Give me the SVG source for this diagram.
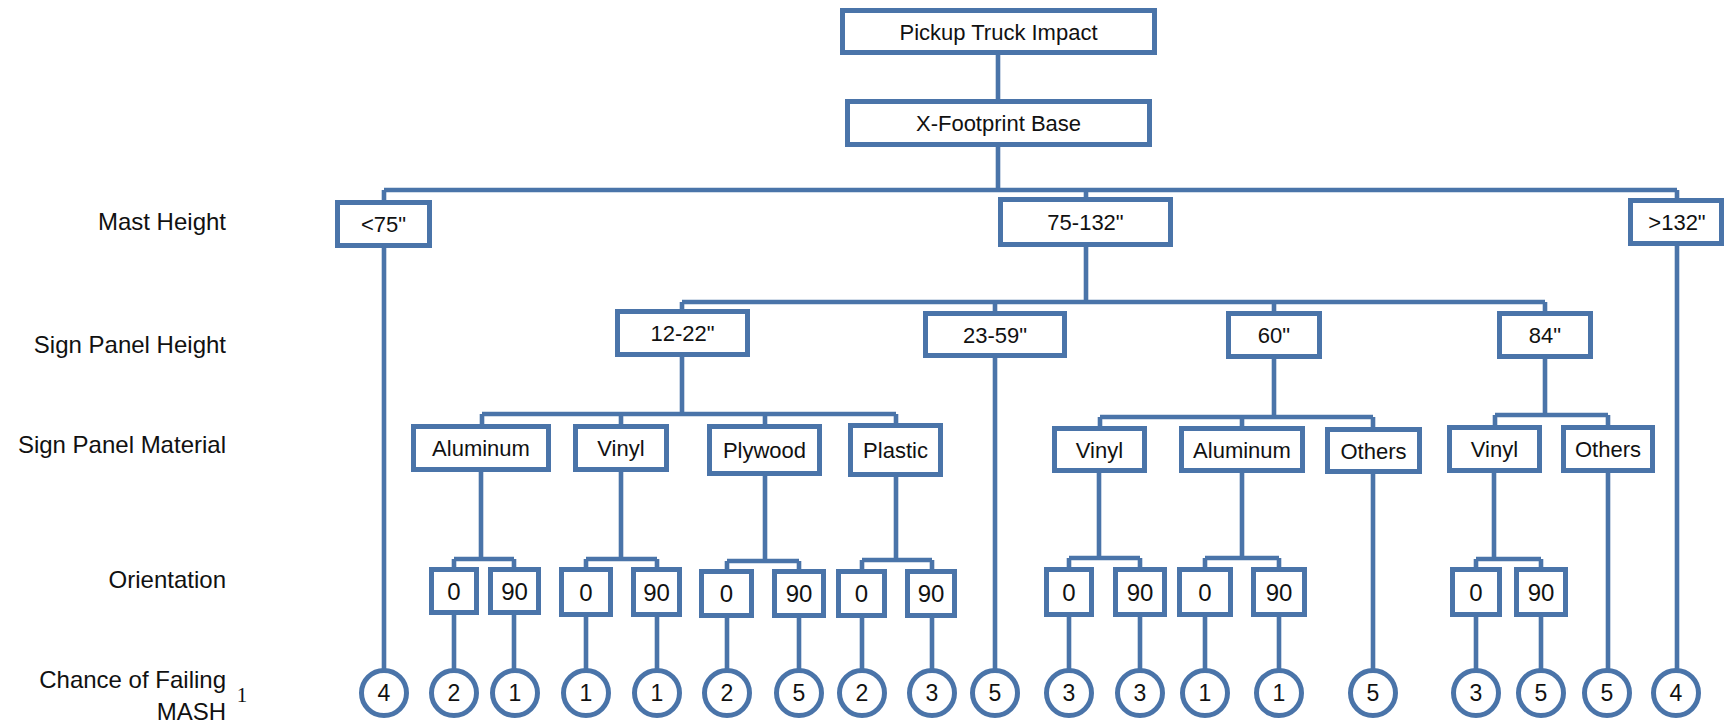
<svg xmlns="http://www.w3.org/2000/svg" width="1724" height="727" viewBox="0 0 1724 727">
<style>
.b{fill:#fff;stroke:#4a74a9;stroke-width:5}
.c{fill:none;stroke:#4a74a9;stroke-width:4.6;stroke-linejoin:miter;stroke-linecap:butt}
.t{font-family:"Liberation Sans",Arial,sans-serif;font-size:22px;fill:#111;text-anchor:middle}
.d{font-family:"Liberation Sans",Arial,sans-serif;font-size:24px;fill:#111;text-anchor:middle}
.n{font-family:"Liberation Sans",Arial,sans-serif;font-size:23px;fill:#111;text-anchor:middle}
.l{font-family:"Liberation Sans",Arial,sans-serif;font-size:24px;fill:#111;text-anchor:end}
</style>
<rect width="1724" height="727" fill="#fff"/>
<g id="row-labels">
<text class="l" x="226" y="230">Mast Height</text>
<text class="l" x="226" y="353">Sign Panel Height</text>
<text class="l" x="226" y="453">Sign Panel Material</text>
<text class="l" x="226" y="588">Orientation</text>
<text class="l" x="226" y="688">Chance of Failing</text>
<text class="l" x="226" y="720">MASH</text>
<text x="242" y="702" font-family="Liberation Serif,serif" font-size="21" fill="#111" text-anchor="middle">1</text>
</g>
<g id="connectors">
<path class="c" d="M998 55V99M998 147V190M384 190H1677M384 190V669M1086 190V199M1677 190V669"/>
<path class="c" d="M1086 247V302M682 302H1545M682 302V311M995 302V669M1274 302V313M1545 302V313"/>
<path class="c" d="M682 357V414M482 414H896M482 414V426M621 414V426M765 414V426M896 414V426"/>
<path class="c" d="M1274 359V417M1100 417H1373M1100 417V428M1242 417V428M1373 417V669"/>
<path class="c" d="M1545 359V415M1495 415H1608M1495 415V427M1608 415V669"/>
<path class="c" d="M481 472V559M454 559H514M454 559V569M514 559V569"/>
<path class="c" d="M621 472V559M586 559H657M586 559V569M657 559V569"/>
<path class="c" d="M765 476V561M727 561H799M727 561V571M799 561V571"/>
<path class="c" d="M896 477V560M862 560H932M862 560V571M932 560V571"/>
<path class="c" d="M1099 473V558M1069 558H1140M1069 558V569M1140 558V569"/>
<path class="c" d="M1242 473V558M1205 558H1279M1205 558V569M1279 558V569"/>
<path class="c" d="M1494 473V559M1476 559H1541M1476 559V569M1541 559V569"/>
<path class="c" d="M454 615V669M514 615V669M586 617V669M657 617V669M727 618V669M799 618V669M862 618V669M932 618V669M1069 617V669M1140 617V669M1205 617V669M1279 617V669M1476 617V669M1541 617V669"/>
</g>
<g id="n-pickup"><rect class="b" x="842.5" y="10.5" width="312" height="42"/><text class="t" x="998.5" y="40">Pickup Truck Impact</text></g>
<g id="n-base"><rect class="b" x="847.5" y="101.5" width="302" height="43"/><text class="t" x="998.5" y="131">X-Footprint Base</text></g>
<g id="n-m75"><rect class="b" x="337.5" y="202.5" width="92" height="43"/><text class="t" x="383.5" y="232">&lt;75"</text></g>
<g id="n-m75-132"><rect class="b" x="1000.5" y="199.5" width="170" height="45"/><text class="t" x="1085.5" y="230">75-132"</text></g>
<g id="n-m132"><rect class="b" x="1630.5" y="200.5" width="91" height="43"/><text class="t" x="1677" y="230">&gt;132"</text></g>
<g id="n-h12"><rect class="b" x="617.5" y="311.5" width="130" height="43"/><text class="t" x="682.5" y="341">12-22"</text></g>
<g id="n-h23"><rect class="b" x="925.5" y="313.5" width="139" height="42"/><text class="t" x="995" y="342.5">23-59"</text></g>
<g id="n-h60"><rect class="b" x="1228.5" y="313.5" width="91" height="43"/><text class="t" x="1274" y="343">60"</text></g>
<g id="n-h84"><rect class="b" x="1499.5" y="313.5" width="91" height="43"/><text class="t" x="1545" y="343">84"</text></g>
<g id="n-al1"><rect class="b" x="413.5" y="426.5" width="135" height="43"/><text class="t" x="481" y="456">Aluminum</text></g>
<g id="n-vi1"><rect class="b" x="575.5" y="426.5" width="91" height="43"/><text class="t" x="621" y="456">Vinyl</text></g>
<g id="n-ply"><rect class="b" x="709.5" y="426.5" width="110" height="47"/><text class="t" x="764.5" y="458">Plywood</text></g>
<g id="n-pla"><rect class="b" x="850.5" y="425.5" width="90" height="49"/><text class="t" x="895.5" y="458">Plastic</text></g>
<g id="n-vi2"><rect class="b" x="1054.5" y="428.5" width="90" height="42"/><text class="t" x="1099.5" y="457.5">Vinyl</text></g>
<g id="n-al2"><rect class="b" x="1181.5" y="428.5" width="121" height="42"/><text class="t" x="1242" y="457.5">Aluminum</text></g>
<g id="n-ot2"><rect class="b" x="1327.5" y="429.5" width="92" height="42"/><text class="t" x="1373.5" y="458.5">Others</text></g>
<g id="n-vi3"><rect class="b" x="1449.5" y="427.5" width="90" height="43"/><text class="t" x="1494.5" y="457">Vinyl</text></g>
<g id="n-ot3"><rect class="b" x="1563.5" y="427.5" width="89" height="43"/><text class="t" x="1608" y="457">Others</text></g>
<g id="n-o1"><rect class="b" x="431.5" y="569.5" width="45" height="43"/><text class="d" x="454" y="600">0</text></g>
<g id="n-o2"><rect class="b" x="490.5" y="569.5" width="48" height="43"/><text class="d" x="514.5" y="600">90</text></g>
<g id="n-o3"><rect class="b" x="561.5" y="569.5" width="49" height="45"/><text class="d" x="586" y="601">0</text></g>
<g id="n-o4"><rect class="b" x="633.5" y="569.5" width="46" height="45"/><text class="d" x="656.5" y="601">90</text></g>
<g id="n-o5"><rect class="b" x="701.5" y="571.5" width="50" height="44"/><text class="d" x="726.5" y="602">0</text></g>
<g id="n-o6"><rect class="b" x="774.5" y="571.5" width="49" height="44"/><text class="d" x="799" y="602">90</text></g>
<g id="n-o7"><rect class="b" x="838.5" y="571.5" width="46" height="44"/><text class="d" x="861.5" y="602">0</text></g>
<g id="n-o8"><rect class="b" x="907.5" y="571.5" width="47" height="44"/><text class="d" x="931" y="602">90</text></g>
<g id="n-o9"><rect class="b" x="1046.5" y="569.5" width="45" height="45"/><text class="d" x="1069" y="601">0</text></g>
<g id="n-o10"><rect class="b" x="1115.5" y="569.5" width="49" height="45"/><text class="d" x="1140" y="601">90</text></g>
<g id="n-o11"><rect class="b" x="1179.5" y="569.5" width="51" height="45"/><text class="d" x="1205" y="601">0</text></g>
<g id="n-o12"><rect class="b" x="1253.5" y="569.5" width="51" height="45"/><text class="d" x="1279" y="601">90</text></g>
<g id="n-o13"><rect class="b" x="1452.5" y="569.5" width="47" height="45"/><text class="d" x="1476" y="601">0</text></g>
<g id="n-o14"><rect class="b" x="1516.5" y="569.5" width="49" height="45"/><text class="d" x="1541" y="601">90</text></g>
<g id="results">
<g id="r1"><circle class="b" cx="384" cy="693" r="22.5"/><text class="n" x="384" y="701">4</text></g>
<g id="r2"><circle class="b" cx="454" cy="693" r="22.5"/><text class="n" x="454" y="701">2</text></g>
<g id="r3"><circle class="b" cx="515" cy="693" r="22.5"/><text class="n" x="515" y="701">1</text></g>
<g id="r4"><circle class="b" cx="586" cy="693" r="22.5"/><text class="n" x="586" y="701">1</text></g>
<g id="r5"><circle class="b" cx="657" cy="693" r="22.5"/><text class="n" x="657" y="701">1</text></g>
<g id="r6"><circle class="b" cx="727" cy="693" r="22.5"/><text class="n" x="727" y="701">2</text></g>
<g id="r7"><circle class="b" cx="799" cy="693" r="22.5"/><text class="n" x="799" y="701">5</text></g>
<g id="r8"><circle class="b" cx="862" cy="693" r="22.5"/><text class="n" x="862" y="701">2</text></g>
<g id="r9"><circle class="b" cx="932" cy="693" r="22.5"/><text class="n" x="932" y="701">3</text></g>
<g id="r10"><circle class="b" cx="995" cy="693" r="22.5"/><text class="n" x="995" y="701">5</text></g>
<g id="r11"><circle class="b" cx="1069" cy="693" r="22.5"/><text class="n" x="1069" y="701">3</text></g>
<g id="r12"><circle class="b" cx="1140" cy="693" r="22.5"/><text class="n" x="1140" y="701">3</text></g>
<g id="r13"><circle class="b" cx="1205" cy="693" r="22.5"/><text class="n" x="1205" y="701">1</text></g>
<g id="r14"><circle class="b" cx="1279" cy="693" r="22.5"/><text class="n" x="1279" y="701">1</text></g>
<g id="r15"><circle class="b" cx="1373" cy="693" r="22.5"/><text class="n" x="1373" y="701">5</text></g>
<g id="r16"><circle class="b" cx="1476" cy="693" r="22.5"/><text class="n" x="1476" y="701">3</text></g>
<g id="r17"><circle class="b" cx="1541" cy="693" r="22.5"/><text class="n" x="1541" y="701">5</text></g>
<g id="r18"><circle class="b" cx="1607" cy="693" r="22.5"/><text class="n" x="1607" y="701">5</text></g>
<g id="r19"><circle class="b" cx="1676" cy="693" r="22.5"/><text class="n" x="1676" y="701">4</text></g>
</g>
</svg>
